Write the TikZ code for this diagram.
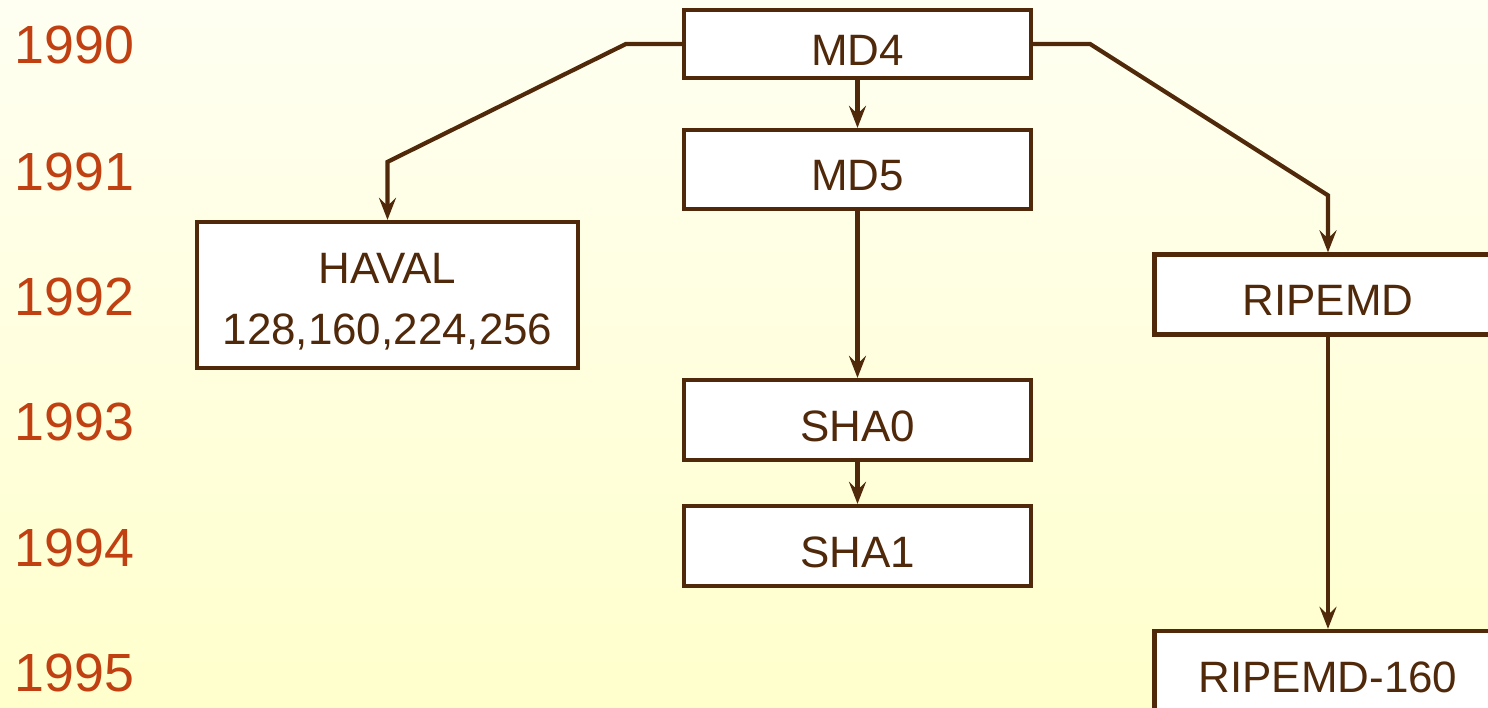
\documentclass[tikz,border=0pt]{standalone}
\usepackage{fontspec}
\setmainfont{Liberation Sans}
\usetikzlibrary{arrows.meta}
\definecolor{hash_brown}{RGB}{80, 40, 10}
\definecolor{year_red}{RGB}{192, 64, 18}
\definecolor{bg_top}{RGB}{255, 255, 242}
\definecolor{bg_bottom}{RGB}{255, 255, 204}
\tikzstyle{hbox}=[rectangle,fill=white,draw=hash_brown,text=hash_brown,
  line width=1.2pt,minimum width=3.47cm,minimum height=0.8cm,
  text height=0.43cm,text depth=0pt,
  font=\fontsize{12.5}{17.4}\selectfont]
\tikzstyle{year}=[anchor=west,inner sep=0pt,text=year_red,
  font=\fontsize{15.3}{18}\selectfont]
\tikzstyle{flow}=[draw=hash_brown,line width=1.2pt,
  -{Stealth[length=2.2mm,width=1.7mm,inset=0.8mm]}]

\begin{document}
\begin{tikzpicture}[y=-1cm]
    \clip (0,0) rectangle (14.88,7.08);
    \fill [top color=bg_top,bottom color=bg_bottom] (0,0) rectangle (14.88,7.08);
    \node [style=year] (y1990) at (0.14,0.445) {1990};
    \node [style=year] (y1991) at (0.14,1.72) {1991};
    \node [style=year] (y1992) at (0.14,2.97) {1992};
    \node [style=year] (y1993) at (0.14,4.22) {1993};
    \node [style=year] (y1994) at (0.14,5.48) {1994};
    \node [style=year] (y1995) at (0.14,6.73) {1995};
    \node [style=hbox,minimum height=0.68cm] (md4) at (8.575,0.44) {MD4};
    \node [style=hbox,minimum height=0.79cm] (md5) at (8.575,1.695) {MD5};
    \node [style=hbox,minimum width=3.81cm,minimum height=1.46cm,align=center,
      text height=1.05cm,text depth={}] (haval) at (3.875,2.95) {HAVAL\\128,160,224,256};
    \node [style=hbox] (ripemd) at (13.28,2.945) {RIPEMD};
    \node [style=hbox] (sha0) at (8.575,4.2) {SHA0};
    \node [style=hbox] (sha1) at (8.575,5.46) {SHA1};
    \node [style=hbox] (ripemd160) at (13.28,6.71) {RIPEMD-160};
    \draw [style=flow] (md4) to (md5);
    \draw [style=flow] (md5) to (sha0);
    \draw [style=flow] (sha0) to (sha1);
    \draw [style=flow] (ripemd) to (ripemd160);
    \draw [style=flow] (md4.west) -- ++(-0.56,0) -- ([yshift=0.58cm]haval.north) -- (haval.north);
    \draw [style=flow] (md4.east) -- ++(0.57,0) -- ([yshift=0.57cm]ripemd.north) -- (ripemd.north);
  \end{tikzpicture}
\end{document}
